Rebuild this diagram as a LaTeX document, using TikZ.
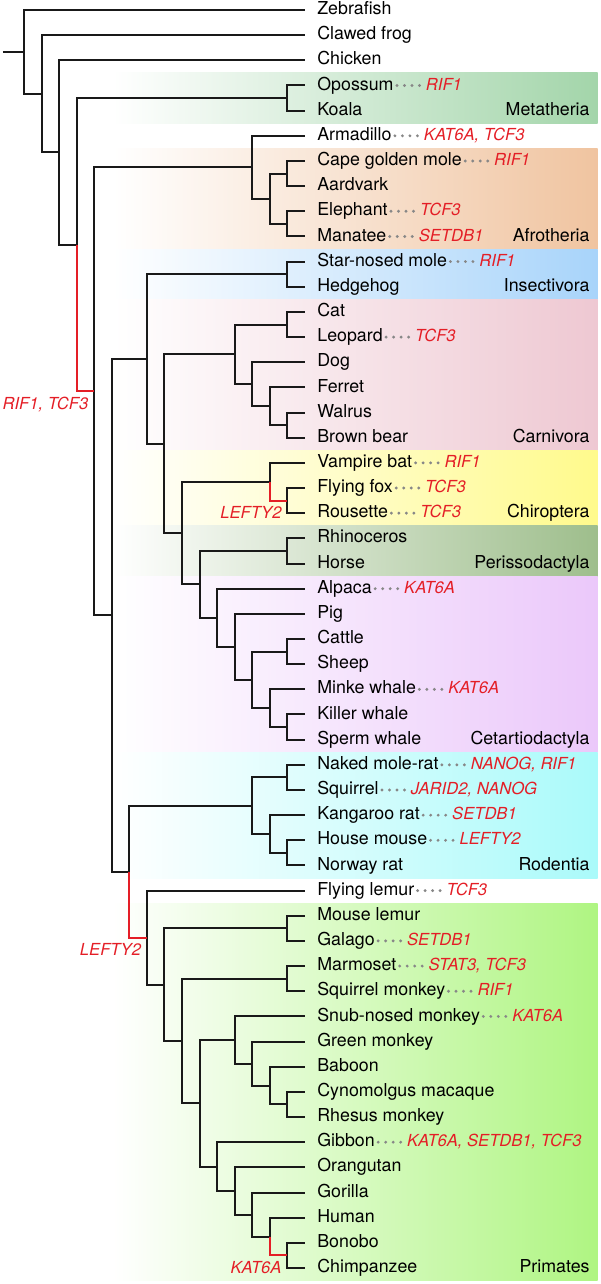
\documentclass[tikz,border=0pt]{standalone}
\usepackage{fontspec}
\setmainfont{TeX Gyre Heros}
\usetikzlibrary{positioning}

% colours of the clade bands
\definecolor{lossred}{RGB}{228,30,38}
\definecolor{dotgray}{RGB}{135,135,135}
\definecolor{metacol}{RGB}{163,213,170}
\definecolor{afrocol}{RGB}{240,196,160}
\definecolor{insectcol}{RGB}{168,212,250}
\definecolor{carnicol}{RGB}{238,200,210}
\definecolor{chirocol}{RGB}{255,250,140}
\definecolor{perisscol}{RGB}{158,190,140}
\definecolor{cetartcol}{RGB}{235,200,250}
\definecolor{rodentcol}{RGB}{170,250,250}
\definecolor{primatecol}{RGB}{175,245,130}

\begin{document}
\begin{tikzpicture}[
    x=8.78pt, y=-12.58pt,
    branch/.style={draw=black!90, line width=1pt},
    lossbranch/.style={draw=lossred, line width=1pt},
    taxon/.style={anchor=west, inner xsep=6pt, inner ysep=0pt,
      text height=6.4pt, text depth=1.8pt, font=\fontsize{8.9}{10}\selectfont},
    gene/.style={inner sep=0pt, text height=6.4pt, text depth=1.8pt,
      text=lossred, font=\fontsize{8.3}{10}\selectfont\itshape},
    loss/.style={anchor=base east, inner sep=0pt, text=lossred,
      font=\fontsize{8.3}{10}\selectfont\itshape},
    leader/.style={draw=dotgray, line width=1.6pt, line cap=round,
      dash pattern=on 0pt off 3.75pt, shorten <=-4.5pt, shorten >=1.5pt},
    clade/.style={anchor=east, inner sep=0pt, text height=6.4pt, text depth=1.8pt,
      font=\fontsize{8.9}{10}\selectfont}
  ]

    \useasboundingbox (-12pt,5pt) rectangle (288pt,-637pt);

    % --- Parameters ---
    \def\bandL{5.07}   % left end of the bands
    \def\bandR{32.66}  % right end of the bands
    \def\labR{32.23}   % right edge of clade names

    % --- Clade bands ---
    \foreach \r/\s/\c/\t in {2.5/4.5/metacol/Metatheria, 5.5/9.5/afrocol/Afrotheria,
        9.5/11.5/insectcol/Insectivora, 11.5/17.5/carnicol/Carnivora,
        17.5/20.5/chirocol/Chiroptera, 20.5/22.5/perisscol/Perissodactyla,
        22.5/29.5/cetartcol/Cetartiodactyla, 29.5/34.5/rodentcol/Rodentia,
        35.5/50.5/primatecol/Primates} {
      \shade[left color=white, right color=\c] (\bandL,\r) rectangle (\bandR,\s);
      \node[clade] (band-\c) at (\labR,\s-0.5) {\t};
    }

    % --- Leaves ---
    \foreach \n/\t [count=\i from 0] in {zebrafish/Zebrafish, frog/Clawed frog,
        chicken/Chicken, opossum/Opossum, koala/Koala, armadillo/Armadillo,
        goldenmole/Cape golden mole, aardvark/Aardvark, elephant/Elephant,
        manatee/Manatee, starmole/Star-nosed mole, hedgehog/Hedgehog, cat/Cat,
        leopard/Leopard, dog/Dog, ferret/Ferret, walrus/Walrus, bear/Brown bear,
        vampbat/Vampire bat, flyfox/Flying fox, rousette/Rousette,
        rhino/Rhinoceros, horse/Horse, alpaca/Alpaca, pig/Pig, cattle/Cattle,
        sheep/Sheep, minke/Minke whale, killer/Killer whale, sperm/Sperm whale,
        molerat/Naked mole-rat, squirrel/Squirrel, kangrat/Kangaroo rat,
        mouse/House mouse, rat/Norway rat, flylemur/Flying lemur,
        mouselemur/Mouse lemur, galago/Galago, marmoset/Marmoset,
        sqmonkey/Squirrel monkey, snubnosed/Snub-nosed monkey,
        greenmonkey/Green monkey, baboon/Baboon, cynomolgus/Cynomolgus macaque,
        rhesus/Rhesus monkey, gibbon/Gibbon, orangutan/Orangutan,
        gorilla/Gorilla, human/Human, bonobo/Bonobo, chimp/Chimpanzee} {
      \node[taxon] (\n) at (16,\i) {\t};
    }

    % --- Internal nodes (level, row) ---
    \foreach \n/\l/\r in {root/0/1.666, tetrapoda/1/3.332, amniota/2/5.663,
        theria/3/9.327, metatheria/15/3.5, placentalia/4/15.154,
        atlantogenata/13/6.25, afrotheria/14/7.5, afrosoricida/15/6.5,
        paenungulata/15/8.5, boreoeutheria/5/24.058, laurasiatheria/7/13.869,
        insectivora/15/10.5, ferungulata/8/17.238, carnivora/12/13.6875,
        felidae/15/12.5, caniformia/13/14.875, arctoidea/14/15.75,
        pinnursid/15/16.5, scrotifera/9/20.789, chiroptera/14/18.75,
        pteropodidae/15/19.5, euungulata/10/22.828, perissodactyla/15/21.5,
        cetartiodactyla/11/24.156, artiofabula/12/25.313,
        cetruminantia/13/26.625, bovidae/15/25.5, cetacea/14/27.75,
        odontoceti/15/28.5, euarchontoglires/6/34.247, rodentia/13/31.625,
        rodpair/15/30.5, myomorpha/14/32.75, muridae/15/33.5,
        primatomorpha/7/36.869, primates/8/38.738, strepsirrhini/15/36.5,
        simiiformes/9/40.977, platyrrhini/15/38.5, catarrhini/10/43.453,
        cercopithecidae/12/40.938, papionini/13/41.875, papmac/14/42.75,
        macaca/15/43.5, hominoidea/11/45.969, hominidae/12/46.938,
        homininae/13/47.875, hominini/14/48.75, pan/15/49.5} {
      \coordinate (\n) at (\l,\r);
    }
    \coordinate (stem) at (-1.2,1.666);

    % --- Branches ---
    \draw[branch] (stem) -- (root);
    \foreach \p/\c in {root/zebrafish, root/tetrapoda, tetrapoda/frog,
        tetrapoda/amniota, amniota/chicken, amniota/theria, theria/metatheria,
        metatheria/opossum, metatheria/koala, placentalia/atlantogenata,
        placentalia/boreoeutheria, atlantogenata/armadillo,
        atlantogenata/afrotheria, afrotheria/afrosoricida,
        afrotheria/paenungulata, afrosoricida/goldenmole, afrosoricida/aardvark,
        paenungulata/elephant, paenungulata/manatee,
        boreoeutheria/laurasiatheria, boreoeutheria/euarchontoglires,
        laurasiatheria/insectivora, laurasiatheria/ferungulata,
        insectivora/starmole, insectivora/hedgehog, ferungulata/carnivora,
        ferungulata/scrotifera, carnivora/felidae, carnivora/caniformia,
        felidae/cat, felidae/leopard, caniformia/dog, caniformia/arctoidea,
        arctoidea/ferret, arctoidea/pinnursid, pinnursid/walrus, pinnursid/bear,
        scrotifera/chiroptera, scrotifera/euungulata, chiroptera/vampbat,
        pteropodidae/flyfox, pteropodidae/rousette,
        euungulata/perissodactyla, euungulata/cetartiodactyla,
        perissodactyla/rhino, perissodactyla/horse, cetartiodactyla/alpaca,
        cetartiodactyla/artiofabula, artiofabula/pig, artiofabula/cetruminantia,
        cetruminantia/bovidae, cetruminantia/cetacea, bovidae/cattle,
        bovidae/sheep, cetacea/minke, cetacea/odontoceti, odontoceti/killer,
        odontoceti/sperm, euarchontoglires/rodentia, rodentia/rodpair,
        rodentia/myomorpha, rodpair/molerat, rodpair/squirrel,
        myomorpha/kangrat, myomorpha/muridae, muridae/mouse, muridae/rat,
        primatomorpha/flylemur, primatomorpha/primates,
        primates/strepsirrhini, primates/simiiformes, strepsirrhini/mouselemur,
        strepsirrhini/galago, simiiformes/platyrrhini, simiiformes/catarrhini,
        platyrrhini/marmoset, platyrrhini/sqmonkey,
        catarrhini/cercopithecidae, catarrhini/hominoidea,
        cercopithecidae/snubnosed, cercopithecidae/papionini,
        papionini/greenmonkey, papionini/papmac, papmac/baboon, papmac/macaca,
        macaca/cynomolgus, macaca/rhesus, hominoidea/gibbon,
        hominoidea/hominidae, hominidae/orangutan, hominidae/homininae,
        homininae/gorilla, homininae/hominini, hominini/human, pan/bonobo,
        pan/chimp} {
      \draw[branch] (\p) |- (\c);
    }

    % Branches with gene losses
    \foreach \p/\c/\g in {theria/placentalia/{RIF1, TCF3},
        chiroptera/pteropodidae/LEFTY2, euarchontoglires/primatomorpha/LEFTY2,
        hominini/pan/KAT6A} {
      \draw[lossbranch] (\p) |- (\c);
      \node[loss] (\c-l) at ([xshift=-2.75pt, yshift=-9pt]\c) {\g};
    }

    % --- Genes lost in single species ---
    \foreach \n/\g in {opossum/RIF1, armadillo/{KAT6A, TCF3}, goldenmole/RIF1,
        elephant/TCF3, manatee/SETDB1, starmole/RIF1, leopard/TCF3,
        vampbat/RIF1, flyfox/TCF3, rousette/TCF3, alpaca/KAT6A, minke/KAT6A,
        molerat/{NANOG, RIF1}, squirrel/{JARID2, NANOG}, kangrat/SETDB1,
        mouse/LEFTY2, flylemur/TCF3, galago/SETDB1, marmoset/{STAT3, TCF3},
        sqmonkey/RIF1, snubnosed/KAT6A, gibbon/{KAT6A, SETDB1, TCF3}} {
      \node[gene, base right=9.8pt of \n] (\n-g) {\g};
      \draw[leader] (\n) -- (\n-g);
    }

\end{tikzpicture}
\end{document}
